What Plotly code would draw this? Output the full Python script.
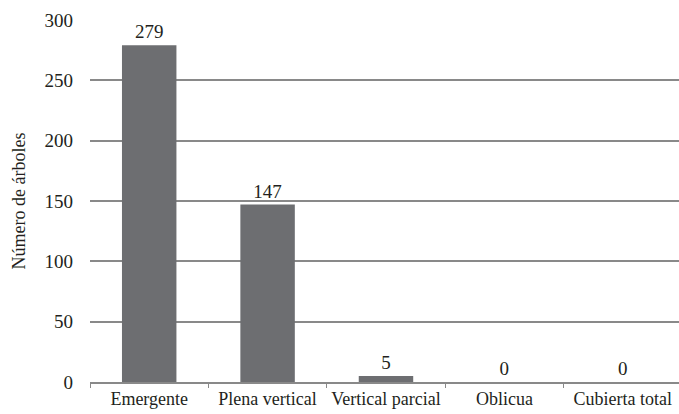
import plotly.graph_objects as go

categories = ["Emergente", "Plena vertical", "Vertical parcial", "Oblicua", "Cubierta total"]
values = [279, 147, 5, 0, 0]
y_ticks = [0, 50, 100, 150, 200, 250, 300]

FONT = "Liberation Serif, Times New Roman, serif"

fig = go.Figure(go.Bar(
    x=categories, y=values,
    marker=dict(color="#6d6e71", line=dict(width=0)),
    width=0.46,
    text=[str(v) for v in values],
    textposition="outside",
    textfont=dict(family=FONT, size=19, color="#231f20"),
    cliponaxis=False,
))

fig.update_layout(
    width=679, height=414,
    margin=dict(l=90, r=0, t=20, b=32, autoexpand=False),
    plot_bgcolor="white", paper_bgcolor="white",
    showlegend=False,
    font=dict(family=FONT, color="#231f20"),
)
fig.update_xaxes(
    range=[-0.5, 4.475],
    showline=True, linecolor="#898989", linewidth=1.5,
    ticks="outside", tickson="boundaries", ticklen=4, tickcolor="#898989",
    tickfont=dict(family=FONT, size=18, color="#231f20"),
    tickangle=0,
    showgrid=False,
)
fig.update_yaxes(
    range=[0, 300], tickvals=y_ticks,
    showgrid=True, gridcolor="#898989", gridwidth=1.5,
    zeroline=False,
    tickfont=dict(family=FONT, size=19, color="#231f20"),
    ticklabelstandoff=16,
    title=dict(text="Número de árboles", font=dict(family=FONT, size=18, color="#231f20"), standoff=14),
)

fig.write_html("out.html", config={"displayModeBar": False},
               post_script="document.body.style.margin='0';document.body.style.padding='0';")
